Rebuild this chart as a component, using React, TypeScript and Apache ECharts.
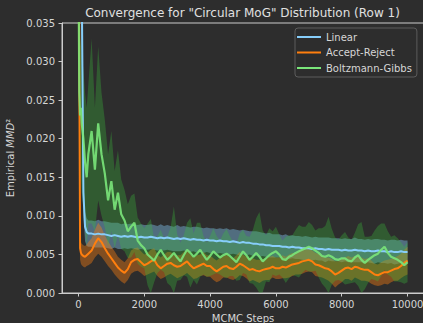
import React, { useEffect, useRef } from "react";
import * as echarts from "echarts";

const STEPS = [
  0, 25, 50, 75, 100, 150, 200, 250, 300,
  400, 500, 600, 700, 800, 900, 1000, 1100, 1200, 1300, 1400, 1500, 1600, 1700, 1800, 1900, 2000,
  2100, 2200, 2300, 2400, 2500, 2600, 2700, 2800, 2900, 3000, 3100, 3200, 3300, 3400, 3500, 3600, 3700, 3800, 3900, 4000,
  4100, 4200, 4300, 4400, 4500, 4600, 4700, 4800, 4900, 5000, 5100, 5200, 5300, 5400, 5500, 5600, 5700, 5800, 5900, 6000,
  6100, 6200, 6300, 6400, 6500, 6600, 6700, 6800, 6900, 7000, 7100, 7200, 7300, 7400, 7500, 7600, 7700, 7800, 7900, 8000,
  8100, 8200, 8300, 8400, 8500, 8600, 8700, 8800, 8900, 9000, 9100, 9200, 9300, 9400, 9500, 9600, 9700, 9800, 9900, 10000,
];

const X_TICKS = [0, 2000, 4000, 6000, 8000, 10000];

const LINEAR_MEAN = [
  0.06, 0.058, 0.055, 0.05, 0.04, 0.013, 0.0086, 0.0079, 0.0077,
  0.0077, 0.0076, 0.0077, 0.0076, 0.0076, 0.0075, 0.0074, 0.0075, 0.0074, 0.0073, 0.0074, 0.0073, 0.0074, 0.0073, 0.0072, 0.0073, 0.0072,
  0.0072, 0.0073, 0.0072, 0.0071, 0.0072, 0.0071, 0.0072, 0.0071, 0.007, 0.0071, 0.007, 0.0071, 0.007, 0.0069, 0.007, 0.0069, 0.0069, 0.0068, 0.0069, 0.0068,
  0.0068, 0.0067, 0.0068, 0.0067, 0.0067, 0.0066, 0.0067, 0.0066, 0.0065, 0.0066, 0.0065, 0.0065, 0.0064, 0.0064, 0.0063, 0.0063, 0.0062, 0.0062, 0.0061, 0.0061,
  0.0061, 0.006, 0.006, 0.0059, 0.006, 0.0059, 0.0059, 0.0058, 0.0058, 0.0058, 0.0057, 0.0058, 0.0057, 0.0057, 0.0056, 0.0057, 0.0056, 0.0056, 0.0056, 0.0055,
  0.0056, 0.0055, 0.0055, 0.0056, 0.0055, 0.0055, 0.0054, 0.0055, 0.0054, 0.0054, 0.0055, 0.0054, 0.0054, 0.0053, 0.0054, 0.0053, 0.0053, 0.0054, 0.0053, 0.0053,
];
const LINEAR_STD = [
  0.01, 0.01, 0.01, 0.01, 0.008, 0.003, 0.0019, 0.0018, 0.0017,
  0.0017, 0.0017, 0.0018, 0.0017, 0.0017, 0.0017, 0.0017, 0.0016, 0.0017, 0.0016, 0.0016, 0.0016, 0.0016, 0.0016, 0.0016, 0.0016, 0.0016,
  0.0016, 0.0016, 0.0016, 0.0016, 0.0017, 0.0016, 0.0016, 0.0016, 0.0016, 0.0017, 0.0016, 0.0016, 0.0016, 0.0016, 0.0016, 0.0017, 0.0016, 0.0016, 0.0016, 0.0016,
  0.0016, 0.0016, 0.0016, 0.0016, 0.0017, 0.0016, 0.0016, 0.0016, 0.0016, 0.0016, 0.0016, 0.0015, 0.0016, 0.0016, 0.0016, 0.0015, 0.0015, 0.0016, 0.0015, 0.0015,
  0.0015, 0.0015, 0.0016, 0.0015, 0.0015, 0.0015, 0.0015, 0.0015, 0.0016, 0.0015, 0.0015, 0.0015, 0.0015, 0.0015, 0.0016, 0.0015, 0.0015, 0.0015, 0.0015, 0.0015,
  0.0015, 0.0015, 0.0015, 0.0016, 0.0015, 0.0015, 0.0015, 0.0015, 0.0015, 0.0016, 0.0015, 0.0015, 0.0015, 0.0015, 0.0015, 0.0016, 0.0015, 0.0015, 0.0015, 0.0015,
];

const ACCEPT_MEAN = [
  0.06, 0.03, 0.0058, 0.0052, 0.005, 0.0048, 0.0047, 0.0049, 0.0051,
  0.0055, 0.0064, 0.0071, 0.0066, 0.0058, 0.0051, 0.0045, 0.0039, 0.0033, 0.0029, 0.0026, 0.0031, 0.004, 0.0043, 0.0044, 0.004, 0.0036,
  0.0038, 0.0041, 0.0043, 0.0036, 0.0032, 0.0035, 0.0038, 0.0039, 0.0036, 0.0034, 0.0035, 0.0038, 0.0041, 0.0036, 0.0032, 0.0034, 0.0036, 0.0038, 0.0035, 0.0035,
  0.0031, 0.0028, 0.0031, 0.0034, 0.0035, 0.0032, 0.0031, 0.0034, 0.0038, 0.0036, 0.0033, 0.003, 0.0031, 0.0029, 0.0028, 0.003, 0.0031, 0.0032, 0.0034, 0.0032,
  0.0032, 0.0034, 0.0033, 0.0035, 0.0037, 0.0038, 0.0039, 0.0041, 0.0042, 0.0043, 0.0041, 0.0037, 0.0036, 0.0034, 0.0032, 0.0031, 0.0028, 0.0024, 0.0026, 0.0029,
  0.0032, 0.0033, 0.0031, 0.0034, 0.0033, 0.0031, 0.003, 0.003, 0.0027, 0.0024, 0.0023, 0.0025, 0.0027, 0.0027, 0.0029, 0.0031, 0.0032, 0.0035, 0.0039, 0.0042,
];
const ACCEPT_STD = [
  0.01, 0.008, 0.0015, 0.0014, 0.0014, 0.0014, 0.0014, 0.0014, 0.0015,
  0.0016, 0.0018, 0.002, 0.0019, 0.0017, 0.0016, 0.0015, 0.0015, 0.0014, 0.0014, 0.0014, 0.0014, 0.0015, 0.0015, 0.0015, 0.0014, 0.0014,
  0.0014, 0.0015, 0.0015, 0.0014, 0.0014, 0.0015, 0.0015, 0.0014, 0.0014, 0.0015, 0.0014, 0.0015, 0.0015, 0.0014, 0.0014, 0.0015, 0.0014, 0.0015, 0.0014, 0.0014,
  0.0014, 0.0014, 0.0015, 0.0014, 0.0015, 0.0014, 0.0014, 0.0015, 0.0015, 0.0014, 0.0014, 0.0015, 0.0014, 0.0014, 0.0015, 0.0014, 0.0014, 0.0015, 0.0014, 0.0014,
  0.0014, 0.0015, 0.0014, 0.0015, 0.0015, 0.0014, 0.0015, 0.0016, 0.0015, 0.0015, 0.0014, 0.0015, 0.0015, 0.0014, 0.0014, 0.0015, 0.0016, 0.0017, 0.0015, 0.0015,
  0.0014, 0.0015, 0.0015, 0.0014, 0.0015, 0.0015, 0.0014, 0.0015, 0.0015, 0.0014, 0.0014, 0.0015, 0.0015, 0.0016, 0.0015, 0.0015, 0.0016, 0.0016, 0.0017, 0.0018,
];

const GIBBS_MEAN = [
  0.045, 0.026, 0.023, 0.024, 0.022, 0.02, 0.017, 0.015, 0.018,
  0.021, 0.016, 0.022, 0.018, 0.0155, 0.012, 0.0145, 0.0108, 0.013, 0.0102, 0.0094, 0.008, 0.0086, 0.0091, 0.0068, 0.0062, 0.0058,
  0.005, 0.0046, 0.0042, 0.005, 0.0056, 0.0049, 0.0043, 0.0047, 0.0052, 0.0046, 0.0041, 0.0049, 0.0056, 0.0052, 0.0047, 0.0051, 0.0056, 0.0049, 0.0043, 0.0048,
  0.0054, 0.005, 0.0046, 0.0049, 0.0051, 0.0048, 0.0044, 0.004, 0.0047, 0.0054, 0.0049, 0.0043, 0.0047, 0.0052, 0.0047, 0.0041, 0.0045, 0.0049, 0.0052, 0.0054,
  0.005, 0.0044, 0.0043, 0.0047, 0.0049, 0.0052, 0.0054, 0.0056, 0.0058, 0.006, 0.0058, 0.0055, 0.0052, 0.0048, 0.0047, 0.0049, 0.0047, 0.0044, 0.0043, 0.0045,
  0.0045, 0.0042, 0.0041, 0.0046, 0.0049, 0.0043, 0.0039, 0.0043, 0.0046, 0.0049, 0.0051, 0.0056, 0.006, 0.0052, 0.0047, 0.0045, 0.0043, 0.004, 0.0036, 0.004,
];
const GIBBS_STD = [
  0.01, 0.01, 0.009, 0.009, 0.009, 0.009, 0.009, 0.009, 0.009,
  0.012, 0.008, 0.01, 0.008, 0.007, 0.006, 0.0065, 0.005, 0.0055, 0.0045, 0.004, 0.0035, 0.004, 0.0038, 0.003, 0.0028, 0.0026,
  0.004, 0.005, 0.0028, 0.0024, 0.0026, 0.0022, 0.003, 0.0038, 0.006, 0.003, 0.0024, 0.0026, 0.0035, 0.0045, 0.003, 0.004, 0.0035, 0.0025, 0.0022, 0.0026,
  0.003, 0.0024, 0.0022, 0.0028, 0.0032, 0.0026, 0.0022, 0.0024, 0.003, 0.0028, 0.0025, 0.003, 0.0035, 0.0045, 0.0058, 0.004, 0.003, 0.0035, 0.0028, 0.0032,
  0.0026, 0.0024, 0.003, 0.0028, 0.0026, 0.003, 0.0034, 0.003, 0.0028, 0.0032, 0.003, 0.0026, 0.0032, 0.0036, 0.004, 0.005, 0.0036, 0.0028, 0.0026, 0.003,
  0.0034, 0.003, 0.0028, 0.0032, 0.004, 0.0049, 0.0034, 0.003, 0.0028, 0.0032, 0.0036, 0.0034, 0.003, 0.0028, 0.0026, 0.003, 0.0028, 0.0026, 0.0024, 0.0026,
];

const TEXT = "#d6d6d6";
const AXIS = "#cccccc";
const FONT = "DejaVu Sans";

function bandSeries(id: string, mean: number[], std: number[], color: string) {
  const data = STEPS.map((s, i) => [s, mean[i] - std[i], mean[i] + std[i]]);
  return {
    type: "custom",
    name: id,
    silent: true,
    encode: { x: 0, y: [1, 2] },
    data,
    renderItem: (params: any, api: any) => {
      if (params.dataIndex !== 0) return null;
      const cs = params.coordSys;
      const rect = { x: cs.x, y: cs.y, width: cs.width, height: cs.height };
      const upper = data.map((d) => api.coord([d[0], d[2]]));
      const lower = data.map((d) => api.coord([d[0], d[1]])).reverse();
      const pts = (echarts.graphic as any).clipPointsByRect(upper.concat(lower), rect);
      return {
        type: "polygon",
        shape: { points: pts },
        style: { fill: color, stroke: "none", lineWidth: 0 },
      };
    },
  };
}

function lineSeries(name: string, mean: number[], color: string, width: number, opacity = 1) {
  return {
    type: "line",
    name,
    symbol: "none",
    clip: true,
    color,
    lineStyle: { color, width, opacity },
    data: STEPS.map((s, i) => [s, mean[i]]),
  };
}

export default function App() {
  const ref = useRef<HTMLDivElement>(null);
  useEffect(() => {
    if (!ref.current) return;
    const chart = echarts.init(ref.current, null, { renderer: "svg" });
    const option: any = {
      animation: false,
      backgroundColor: "#2d2d2d",
      grid: {
        left: 62,
        top: 23,
        width: 362,
        height: 270,
        show: true,
        borderColor: AXIS,
        borderWidth: 1,
        backgroundColor: "transparent",
        outerBoundsMode: "none",
      },
      graphic: [
        {
          type: "text",
          x: 242.5,
          y: 13,
          style: {
            text: 'Convergence for "Circular MoG" Distribution (Row 1)',
            fill: "#e0e0e0",
            font: `12px "${FONT}"`,
            align: "center",
            verticalAlign: "middle",
          },
        },
      ],
      legend: {
        data: ["Linear", "Accept-Reject", "Boltzmann-Gibbs"],
        orient: "vertical",
        left: 295,
        top: 28,
        icon: "rect",
        itemWidth: 24,
        itemHeight: 2,
        itemGap: 3.5,
        padding: [3, 5, 3, 2],
        backgroundColor: "#2d2d2d",
        borderColor: "#5c5c5c",
        borderWidth: 1,
        borderRadius: 3,
        textStyle: { color: TEXT, fontSize: 10, fontFamily: FONT, lineHeight: 12 },
      },
      xAxis: {
        type: "value",
        min: -500,
        max: 10500,
        name: "MCMC Steps",
        nameLocation: "middle",
        nameGap: 18,
        nameTextStyle: { color: TEXT, fontSize: 10, fontFamily: FONT },
        axisLine: { show: true, onZero: false, lineStyle: { color: AXIS, width: 1 } },
        axisTick: { show: true, inside: false, customValues: X_TICKS, length: 3.5, lineStyle: { color: AXIS } },
        axisLabel: {
          customValues: X_TICKS,
          color: TEXT,
          fontSize: 10,
          fontFamily: FONT,
          margin: 6,
          formatter: (v: number) => String(v),
        },
        splitLine: { show: false },
      },
      yAxis: {
        type: "value",
        position: "left",
        min: 0,
        max: 0.035,
        interval: 0.005,
        name: "Empirical {i|MMD}²",
        nameLocation: "middle",
        nameGap: 42,
        nameRotate: 90,
        nameTextStyle: {
          color: TEXT,
          fontSize: 10,
          fontFamily: FONT,
          rich: { i: { fontStyle: "italic", fontSize: 10, fontFamily: FONT, color: TEXT } },
        },
        axisLine: { show: true, onZero: false, lineStyle: { color: AXIS, width: 1 } },
        axisTick: { show: true, inside: false, length: 3.5, lineStyle: { color: AXIS } },
        axisLabel: {
          color: TEXT,
          fontSize: 10,
          fontFamily: FONT,
          margin: 7,
          formatter: (v: number) => v.toFixed(3),
        },
        splitLine: { show: false },
      },
      series: [
        bandSeries("lin", LINEAR_MEAN, LINEAR_STD, "rgba(135,206,250,0.4)"),
        bandSeries("ar", ACCEPT_MEAN, ACCEPT_STD, "rgba(255,127,14,0.4)"),
        bandSeries("bg", GIBBS_MEAN, GIBBS_STD, "rgba(60,190,60,0.32)"),
        lineSeries("Linear", LINEAR_MEAN, "#87cefa", 2),
        lineSeries("Accept-Reject", ACCEPT_MEAN, "#ff7f0e", 2),
        lineSeries("Boltzmann-Gibbs", GIBBS_MEAN, "#7ae67a", 2.2, 0.9),
      ],
    };
    chart.setOption(option);
    return () => chart.dispose();
  }, []);
  return (
    <div
      ref={ref}
      style={{ position: "fixed", left: 0, top: 0, width: 423, height: 323 }}
    />
  );
}
